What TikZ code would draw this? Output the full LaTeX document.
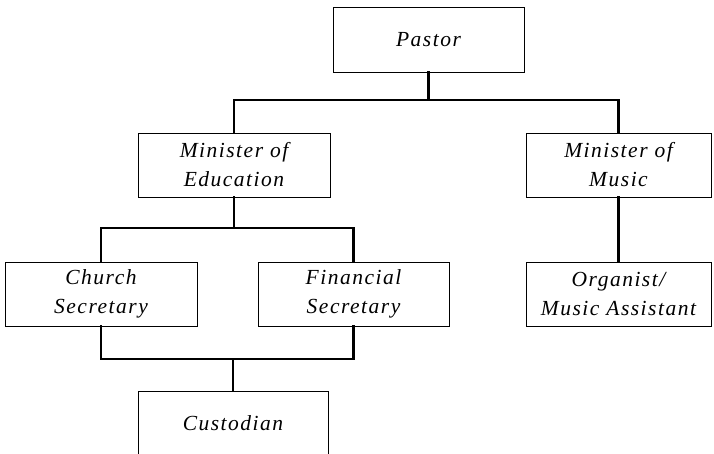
\documentclass[tikz,border=0pt]{standalone}
\usepackage{fontspec}
\setmainfont{Liberation Serif}[LetterSpace=7]
\begin{document}
\begin{tikzpicture}[x=1pt,y=-1pt,
  box/.style={draw, line width=0.9pt, minimum height=64pt, inner sep=0pt, align=center,
    font=\itshape\fontsize{21.5}{29}\selectfont},
  conn/.style={line width=2.5pt, line cap=rect}]
\useasboundingbox (0,0) rectangle (714,453);
\clip (0,0) rectangle (714,453);
\node[box, minimum width=191pt, minimum height=65pt] (pastor) at (428.5,39.5) {Pastor};
\node[box, minimum width=192pt] (mined) at (234,165) {Minister of\\Education};
\node[box, minimum width=185pt] (minmus) at (618.5,165) {Minister of\\Music};
\node[box, minimum width=185pt] (org) at (618.5,294) {Organist/\\Music Assistant};
\node[box, minimum width=192pt] (church) at (101,294) {Church\\Secretary};
\node[box, minimum width=191pt] (fin) at (353.5,294) {Financial\\Secretary};
\node[box, minimum width=190pt] (cust) at (233,423) {Custodian};
\coordinate (b1) at (0,100);
\coordinate (b2) at (0,228);
\coordinate (b3) at (0,359);
\draw[conn] (pastor.south) -- (pastor.south |- b1);
\draw[conn] (mined.north) |- (pastor.south |- b1) -| (minmus.north);
\draw[conn] (mined.south) -- (mined.south |- b2);
\draw[conn] (church.north) |- (mined.south |- b2) -| (fin.north);
\draw[conn] (minmus.south) -- (org.north);
\draw[conn] (church.south) |- (cust.north |- b3) -| (fin.south);
\draw[conn] (cust.north) -- (cust.north |- b3);
\end{tikzpicture}
\end{document}
